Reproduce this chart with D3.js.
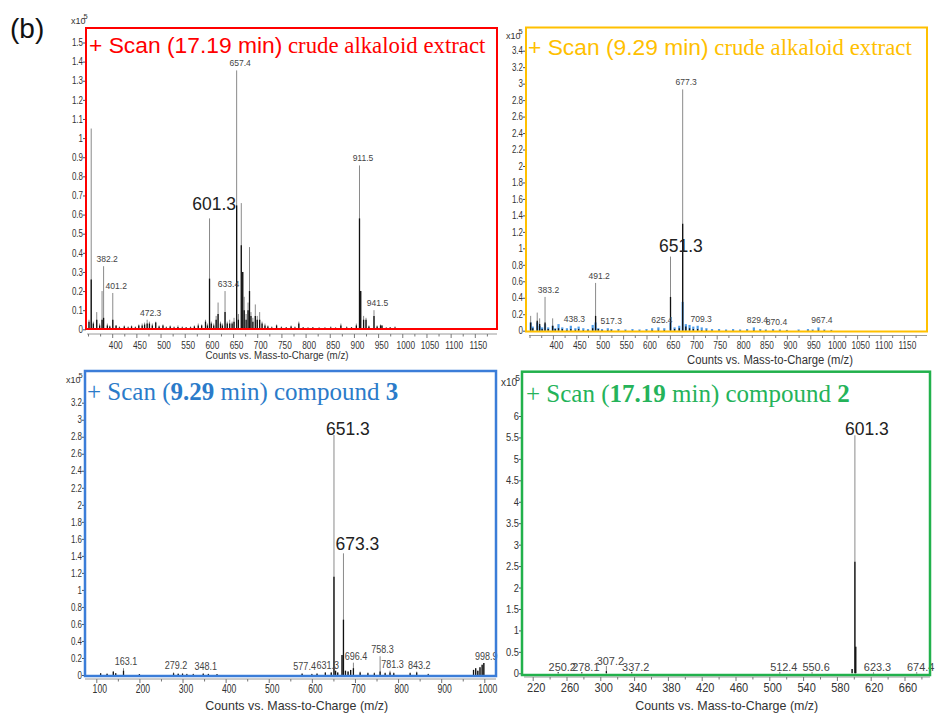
<!DOCTYPE html>
<html><head><meta charset="utf-8">
<script src="https://cdn.jsdelivr.net/npm/d3@7"></script>
<style>body{margin:0;background:#fff}svg{display:block}text{white-space:pre}</style>
</head><body>
<svg id="chart" width="936" height="713"></svg>
<script>
// ===================== DATA =====================
// Peaks: [m/z, profile (grey) height, centroid (black) height, (blue profile height)]
const crude1719Peaks = [
 [352,0.05,0.04],[356.6,1.05,0.26],[361,0.04,0.03],[368,0.09,0.05],[374,0.03,0.02],[379,0.20,0.05],
 [382.2,0.33,0.06],[390,0.03,0.02],[395,0.02,0.015],[401.2,0.19,0.05],[408,0.02,0.02],[415,0.015,0.01],
 [425,0.02,0.015],[433,0.015,0.01],[440,0.02,0.015],[448,0.015,0.01],[455,0.025,0.02],[462,0.03,0.02],
 [467,0.035,0.025],[472.3,0.05,0.03],[477,0.04,0.03],[483,0.03,0.02],[490,0.04,0.035],[497,0.02,0.015],
 [505,0.025,0.02],[512,0.015,0.01],[520,0.02,0.015],[528,0.015,0.01],[536,0.02,0.012],[545,0.015,0.01],
 [553,0.012,0.01],[562,0.015,0.01],[570,0.02,0.015],[578,0.03,0.02],[585,0.025,0.02],[593,0.05,0.04],
 [597,0.03,0.02],[601.3,0.58,0.265],[605,0.04,0.03],[610,0.03,0.02],[615,0.07,0.05],[619,0.14,0.08],
 [624,0.04,0.03],[628,0.03,0.02],[633.4,0.20,0.09],[638,0.04,0.03],[643,0.05,0.03],[648,0.04,0.03],
 [652,0.06,0.04],[657.4,1.354,0.648],[661,0.08,0.05],[667,0.66,0.44],[670,0.30,0.30],[673,0.17,0.10],
 [677,0.08,0.05],[681,0.14,0.10],[684,0.43,0.20],[687,0.09,0.07],[691,0.06,0.04],[696,0.13,0.07],
 [700,0.07,0.05],[705,0.09,0.05],[710,0.04,0.03],[716,0.03,0.02],[722,0.02,0.015],[730,0.015,0.01],
 [740,0.025,0.02],[750,0.015,0.01],[760,0.012,0.01],[770,0.02,0.015],[778,0.015,0.01],[786,0.04,0.03],
 [795,0.012,0.01],[805,0.01,0.008],[815,0.012,0.01],[828,0.01,0.008],[840,0.01,0.008],[852,0.015,0.01],
 [862,0.01,0.008],[873,0.03,0.02],[885,0.015,0.01],[895,0.012,0.01],[905,0.03,0.02],[911.5,0.857,0.58],
 [914,0.20,0.20],[920,0.07,0.05],[925,0.06,0.05],[931,0.02,0.015],[941.5,0.10,0.07],[948,0.02,0.015],
 [955,0.025,0.02],[958,0.02,0.02],[967,0.01,0.008],[975,0.012,0.01],[985,0.015,0.01],[1000,0.005,0.004]
];
const crude929Peaks = [
 [352.5,0.18,0.10,0.10],[357,0,0.03,0.05],[366.5,0.22,0.12,0.10],[371.7,0.15,0.08,0.06],[377,0,0.02,0.04],
 [383.2,0.41,0.10,0.08],[390,0,0.02,0.04],[399.5,0.15,0.06,0.06],[405,0,0.02,0.03],[412,0,0.03,0.08],
 [420,0,0.02,0.04],[430,0,0.01,0.03],[438.3,0,0.02,0.06],[448,0,0.01,0.03],[455,0,0.02,0.05],
 [465,0,0.01,0.03],[475,0,0.01,0.02],[485,0,0.03,0.07],[491.2,0.58,0.18,0.10],[497,0,0.02,0.03],
 [505,0,0.01,0.02],[517.3,0,0.01,0.03],[525,0,0.01,0.02],[540,0,0.005,0.02],[555,0,0.005,0.015],
 [570,0,0.005,0.02],[585,0,0.005,0.015],[600,0,0.005,0.02],[612,0,0.01,0.03],[625.4,0,0.01,0.04],
 [638,0,0.01,0.03],[651.3,0.90,0.41,0.10],[660,0,0.02,0.04],[670,0,0.03,0.06],[677.3,2.93,1.30,0.35],
 [684,0,0.05,0.08],[692,0,0.03,0.07],[700,0,0.02,0.05],[709.3,0,0.02,0.06],[718,0,0.01,0.04],
 [728,0,0.01,0.03],[740,0,0.005,0.02],[755,0,0.005,0.02],[770,0,0.005,0.015],[785,0,0.005,0.02],
 [800,0,0.005,0.015],[815,0,0.005,0.02],[829.4,0,0.01,0.04],[843,0,0.005,0.02],[855,0,0.005,0.015],
 [870.4,0,0.005,0.02],[885,0,0.005,0.015],[900,0,0.005,0.01],[925,0,0.005,0.015],[945,0,0.005,0.02],
 [955,0,0.005,0.015],[967.4,0,0.01,0.04],[980,0,0.005,0.015],[995,0,0.005,0.01]
];
const compound3Peaks = [
 [110,0.02,0.02],[125,0.015,0.015],[139.5,0.04,0.04],[145,0.02,0.02],[163.1,0.08,0.05],[200,0.01,0.01],
 [279.2,0.03,0.02],[290,0.015,0.015],[300,0.02,0.015],[310,0.015,0.01],[325,0.015,0.01],[348.1,0.02,0.015],
 [360,0.015,0.01],[380,0.01,0.01],[577.4,0.02,0.015],[600,0.015,0.01],[612,0.02,0.015],[631.3,0.03,0.03],
 [645,0.03,0.03],[651.3,2.82,1.155],[655,0.05,0.05],[660,0.03,0.03],[670,0.235,0.235],[673.3,1.43,0.65],
 [678,0.05,0.05],[684,0.04,0.04],[690,0.06,0.06],[696.4,0.145,0.08],[712,0.04,0.03],[730,0.03,0.02],
 [745,0.03,0.02],[758.3,0.22,0.04],[770,0.03,0.02],[781.3,0.05,0.03],[790,0.03,0.02],[828,0.03,0.02],
 [843.2,0.04,0.03],[870,0.015,0.01],[975,0.06,0.06],[980,0.08,0.08],[985,0.05,0.05],[990,0.09,0.09],
 [995,0.12,0.12],[998.9,0.14,0.14]
];
const compound2Peaks = [
 [250.2,0.03,0.02],[278.1,0.03,0.02],[307.2,0.17,0.05],[337.2,0.03,0.02],[512.4,0.02,0.01],
 [550.6,0.02,0.01],[598,0.1,0.1],[601.3,5.55,2.6],[602.3,0.62,0.62],[623.3,0.02,0.01],[674.4,0.02,0.01]
];

// Peak annotations (small) and highlighted (large) labels
const crude1719Labels = ["382.2","401.2","472.3","633.4","657.4","911.5","941.5"];
const crude1719Big = ["601.3"];
const crude929Labels = ["383.2","438.3","491.2","517.3","625.4","677.3","709.3","829.4","870.4","967.4"];
const crude929Big = ["651.3"];
const compound3Labels = ["163.1","279.2","348.1","577.4","631.3","696.4","758.3","781.3","843.2","998.9"];
const compound3Big = ["651.3","673.3"];
const compound2Labels = ["250.2","278.1","307.2","337.2","512.4","550.6","623.3","674.4"];
const compound2Big = ["601.3"];

// Tick values
const yTicksCrude1719 = [0,0.1,0.2,0.3,0.4,0.5,0.6,0.7,0.8,0.9,1,1.1,1.2,1.3,1.4,1.5];
const yTicksCrude929 = [0,0.2,0.4,0.6,0.8,1,1.2,1.4,1.6,1.8,2,2.2,2.4,2.6,2.8,3,3.2,3.4];
const yTicksCompound3 = [0,0.2,0.4,0.6,0.8,1,1.2,1.4,1.6,1.8,2,2.2,2.4,2.6,2.8,3,3.2];
const yTicksCompound2 = [0,0.5,1,1.5,2,2.5,3,3.5,4,4.5,5,5.5,6];
const xMajorCrude = [400,450,500,550,600,650,700,750,800,850,900,950,1000,1050,1100,1150];
const xMinorCrude = [350,375,425,475,525,575,625,675,725,775,825,875,925,975,1025,1075,1125,1175];
const xMajorCompound3 = [100,200,300,400,500,600,700,800,900,1000];
const xMinorCompound3 = [150,250,350,450,550,650,750,850,950];
const xMajorCompound2 = [220,260,300,340,380,420,460,500,540,580,620,660];
const xMinorCompound2 = [240,280,320,360,400,440,480,520,560,600,640,680];

const xTitle = "Counts vs. Mass-to-Charge (m/z)";
const exponent = "5";

// ===================== LAYOUT / STYLE =====================
const SANS = "'Liberation Sans', Arial, Helvetica, sans-serif";
const SERIF = "'Liberation Serif', 'Times New Roman', Times, serif";

const panels = [
 { peaks: crude1719Peaks, labels: crude1719Labels, big: crude1719Big,
   yTicks: yTicksCrude1719, xMajor: xMajorCrude, xMinor: xMinorCrude,
   xDom:[400,1150], xRng:[112.2,474.8], yDom:[0,1.5], yRng:[329.3,42.5],
   axisX:[87,497], axisY:334, tickPad:3, xfs:11.5, xsx:0.72,
   yAxisX:86, yfs:10, ysx:0.8,
   box:[86,28,411,301], boxColor:"#FF0000", boxW:2,
   expo:[71,23.5,9], tTitle:[277,359,11.5,143],
   lab:{fs:9.5,sx:0.9,dx:3.5,gap:4}, bigDx:[4.6], bigGap:[8],
   header:{x:89,y:53,fs:22.8,color:"#FF0000",
     parts:[["+ Scan (17.19 min)",SANS,400],[" crude alkaloid extract",SERIF,400]]} },
 { peaks: crude929Peaks, labels: crude929Labels, big: crude929Big, blue:true,
   yTicks: yTicksCrude929, xMajor: xMajorCrude, xMinor: xMinorCrude,
   xDom:[400,1150], xRng:[552.9,903.9], yDom:[0,3.4], yRng:[330.7,50.7],
   axisX:[529,927], axisY:335.5, tickPad:1.5, xfs:11.5, xsx:0.72,
   yAxisX:526, yfs:10, ysx:0.8,
   box:[526,27.5,401,304], boxColor:"#FFC000", boxW:2,
   expo:[506,38.5,9], tTitle:[770,364,12,166],
   lab:{fs:9.5,sx:0.9,dx:3.5,gap:4}, bigDx:[10.4], bigGap:[5],
   header:{x:528,y:55,fs:22.8,color:"#FFC000",
     parts:[["+ Scan (9.29 min)",SANS,400],[" crude alkaloid extract",SERIF,400]]} },
 { peaks: compound3Peaks, labels: compound3Labels, big: compound3Big,
   yTicks: yTicksCompound3, xMajor: xMajorCompound3, xMinor: xMinorCompound3,
   xDom:[100,1000], xRng:[96.3,484.3], yDom:[0,3.2], yRng:[675,402.7],
   axisX:[85,496], axisY:679, tickPad:1.8, xfs:12, xsx:0.72,
   yAxisX:85, yfs:10, ysx:0.8,
   box:[85,371,411,305], boxColor:"#3B7DD8", boxW:2.5,
   expo:[66,383,9], tTitle:[296.7,710,13,183],
   lab:{fs:10.5,sx:0.86,dx:2.5,gap:3}, bigDx:[14,14], bigGap:[0,3],
   header:{x:87,y:400,fs:25,color:"#2B7BC9",
     parts:[["+ Scan (",SERIF,400],["9.29",SERIF,700],[" min) compound ",SERIF,400],["3",SERIF,700]]} },
 { peaks: compound2Peaks, labels: compound2Labels, big: compound2Big,
   yTicks: yTicksCompound2, xMajor: xMajorCompound2, xMinor: xMinorCompound2,
   xDom:[220,660], xRng:[532.7,904.5], yDom:[0,6], yRng:[673.3,416],
   axisX:[524,930], axisY:677, tickPad:2.8, xfs:12, xsx:0.92,
   yAxisX:522, yfs:11, ysx:0.85,
   box:[522,371.7,408,303.3], boxColor:"#22B14C", boxW:2.5,
   expo:[501,386,10], tTitle:[726.7,710,13,183],
   lab:{fs:11.5,sx:0.95,dx:4,gap:1.5}, bigDx:[12], bigGap:[0],
   header:{x:526,y:402,fs:25,color:"#25B35A",
     parts:[["+ Scan (",SERIF,400],["17.19",SERIF,700],[" min) compound ",SERIF,400],["2",SERIF,700]]} }
];

// ===================== DRAW =====================
const svg = d3.select("#chart");
svg.append("rect").attr("width",936).attr("height",713).attr("fill","#fff");

svg.append("text").attr("x",10).attr("y",38).attr("font-family",SANS).attr("font-size",28)
  .attr("fill","#111").text("(b)");

const fmt = d => String(+d.toFixed(2));

function drawPanel(P) {
  const g = svg.append("g");
  const x = d3.scaleLinear().domain(P.xDom).range(P.xRng);
  const y = d3.scaleLinear().domain(P.yDom).range(P.yRng);

  // x axis
  g.append("line").attr("x1",P.axisX[0]).attr("x2",P.axisX[1])
    .attr("y1",P.axisY).attr("y2",P.axisY).attr("stroke","#9a9a9a").attr("stroke-width",1);
  const axMin = g.append("g").attr("transform",`translate(0,${P.axisY})`)
    .call(d3.axisBottom(x).tickValues(P.xMinor).tickSize(2.5).tickFormat(""));
  axMin.select(".domain").remove();
  axMin.selectAll("line").attr("stroke","#777");
  const axMaj = g.append("g").attr("transform",`translate(0,${P.axisY})`)
    .call(d3.axisBottom(x).tickValues(P.xMajor).tickSize(4).tickPadding(P.tickPad).tickFormat(d3.format("d")));
  axMaj.select(".domain").remove();
  axMaj.attr("font-family",SANS).attr("font-size",P.xfs);
  axMaj.selectAll("line").attr("stroke","#777");
  axMaj.selectAll("text").attr("fill","#333")
    .attr("transform",`scale(${P.xsx},1)`).attr("dx",3/P.xsx);

  g.append("text").attr("x",P.tTitle[0]).attr("y",P.tTitle[1]).attr("text-anchor","middle")
    .attr("font-family",SANS).attr("font-size",P.tTitle[2]).attr("fill","#333")
    .attr("textLength",P.tTitle[3]).attr("lengthAdjust","spacingAndGlyphs").text(xTitle);

  // y axis
  const ay = g.append("g").attr("transform",`translate(${P.yAxisX},0)`)
    .call(d3.axisLeft(y).tickValues(P.yTicks).tickSize(3).tickPadding(1).tickFormat(fmt));
  ay.select(".domain").remove();
  ay.attr("font-family",SANS).attr("font-size",P.yfs);
  ay.selectAll("line").attr("stroke","#555");
  ay.selectAll("text").attr("fill","#333")
    .attr("transform",`scale(${P.ysx},1)`).attr("x",-3/P.ysx);

  const ex = g.append("text").attr("x",P.expo[0]).attr("y",P.expo[1])
    .attr("font-family",SANS).attr("font-size",P.expo[2]).attr("fill","#333");
  ex.append("tspan").text("x10");
  ex.append("tspan").attr("dx",-2).attr("dy",-5).attr("font-size",P.expo[2]-1.5).text(exponent);

  // spectrum
  const sp = g.append("g");
  if (P.blue) {
    sp.selectAll("line.b").data(P.peaks.filter(d => d[3] > 0)).join("line").attr("class","b")
      .attr("x1",d=>x(d[0])).attr("x2",d=>x(d[0])).attr("y1",y(0)).attr("y2",d=>y(d[3]))
      .attr("stroke","#4f9de8").attr("stroke-width",2.2);
  }
  sp.selectAll("line.g").data(P.peaks.filter(d => d[1] > 0)).join("line").attr("class","g")
    .attr("x1",d=>x(d[0])).attr("x2",d=>x(d[0])).attr("y1",y(0)).attr("y2",d=>y(d[1]))
    .attr("stroke","#8a8a8a").attr("stroke-width",1);
  sp.selectAll("line.k").data(P.peaks.filter(d => d[2] > 0)).join("line").attr("class","k")
    .attr("x1",d=>x(d[0])).attr("x2",d=>x(d[0])).attr("y1",y(0)).attr("y2",d=>y(d[2]))
    .attr("stroke","#111").attr("stroke-width",1.3);

  const hOf = mz => {
    const p = P.peaks.reduce((a,b) => Math.abs(b[0]-mz) < Math.abs(a[0]-mz) ? b : a);
    return Math.max(p[1], p[2], p[3] || 0);
  };
  g.selectAll("text.pl").data(P.labels).join("text").attr("class","pl")
    .attr("transform", t => `translate(${x(+t)+P.lab.dx},${y(hOf(+t))-P.lab.gap}) scale(${P.lab.sx},1)`)
    .attr("text-anchor","middle").attr("font-family",SANS).attr("font-size",P.lab.fs)
    .attr("fill","#444").text(t => t);
  g.selectAll("text.bl").data(P.big).join("text").attr("class","bl")
    .attr("x",(t,i) => x(+t)+P.bigDx[i]).attr("y",(t,i) => y(hOf(+t))-P.bigGap[i])
    .attr("text-anchor","middle").attr("font-family",SANS).attr("font-size",17.5)
    .attr("fill","#222").text(t => t);

  // frame
  g.append("rect").attr("x",P.box[0]).attr("y",P.box[1]).attr("width",P.box[2]).attr("height",P.box[3])
    .attr("fill","none").attr("stroke",P.boxColor).attr("stroke-width",P.boxW);

  // header
  const h = g.append("text").attr("x",P.header.x).attr("y",P.header.y)
    .attr("font-size",P.header.fs).attr("fill",P.header.color);
  P.header.parts.forEach(p => h.append("tspan").attr("font-family",p[1]).attr("font-weight",p[2]).text(p[0]));
}

panels.forEach(drawPanel);
</script>
</body></html>
